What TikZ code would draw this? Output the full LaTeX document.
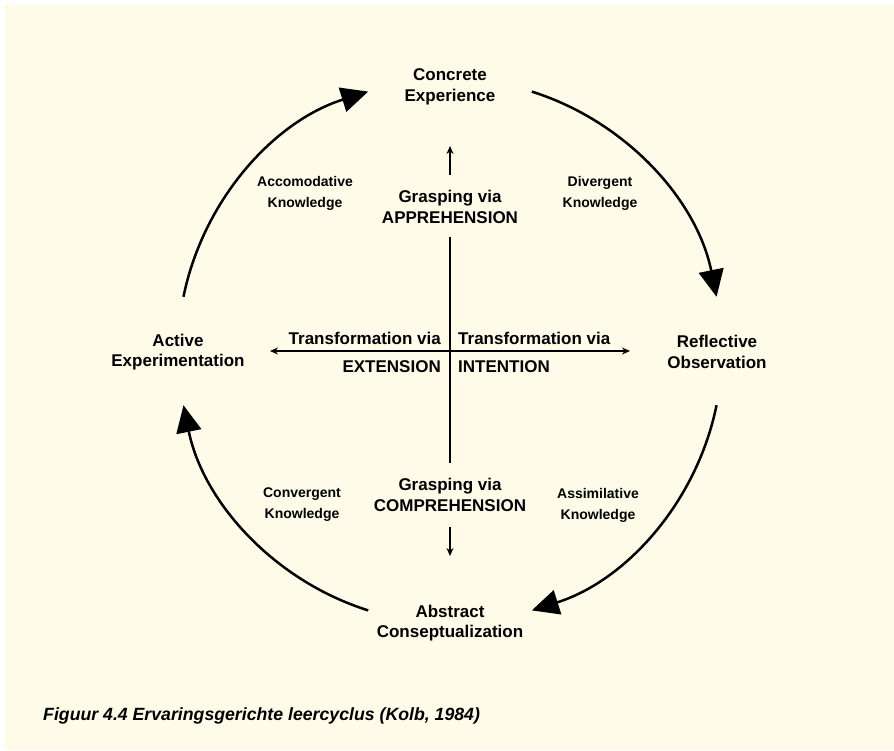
\documentclass[tikz,border=0pt]{standalone}
\usepackage{fontspec}
\setmainfont{Liberation Sans}
\usetikzlibrary{arrows.meta}
\definecolor{cream}{RGB}{254,252,233}
\begin{document}
\begin{tikzpicture}[x=1pt,y=1pt,
  lbl/.style={font=\bfseries\fontsize{17}{20.5}\selectfont, align=center, inner sep=0pt},
  small/.style={font=\bfseries\fontsize{14}{21}\selectfont, align=center, inner sep=0pt},
  axtext/.style={font=\bfseries\fontsize{17}{20.5}\selectfont, inner sep=0pt},
  cyc/.style={line width=2.5pt, -{Triangle[length=27pt,width=25pt]}},
  ax/.style={line width=1.8pt},
  axarr/.style={line width=1.6pt, {Stealth[length=8pt,width=7pt]}-{Stealth[length=8pt,width=7pt]}},
  smallarr/.style={line width=1.6pt, -{Stealth[length=8pt,width=7pt]}}]
\useasboundingbox (0,0) rectangle (894,750);
\fill[white] (0,0) rectangle (894,750);
\fill[cream] (5,0) rectangle (894,745);

\coordinate (C) at (450,399);

% main stage nodes
\node[lbl] (ce) at (450,663) {Concrete\\Experience};
\node[lbl] (ro) at (717,398) {Reflective\\Observation};
\node[lbl] (ac) at (450,127) {Abstract\\Conseptualization};
\node[lbl] (ae) at (178,398) {Active\\Experimentation};

% knowledge labels
\node[small] (acc) at (305,557) {Accomodative\\Knowledge};
\node[small] (div) at (600,557) {Divergent\\Knowledge};
\node[small] (con) at (302,245) {Convergent\\Knowledge};
\node[small] (ass) at (598,245) {Assimilative\\Knowledge};

% grasping labels
\node[lbl] (app) at (450,543) {Grasping via\\APPREHENSION};
\node[lbl] (com) at (450,255) {Grasping via\\COMPREHENSION};

% transformation labels
\node[axtext, anchor=base east] (tl) at (441,405) {Transformation via};
\node[axtext, anchor=base east] (ext) at (441,377) {EXTENSION};
\node[axtext, anchor=base west] (tr) at (458,405) {Transformation via};
\node[axtext, anchor=base west] (int) at (458,377) {INTENTION};

% cycle arcs
\draw[cyc] (C) ++(72.5:272) arc[start angle=72.5, end angle=11.5, radius=272];
\draw[cyc] (C) ++(-11.5:272) arc[start angle=-11.5, end angle=-72.5, radius=272];
\draw[cyc] (C) ++(-107.5:272) arc[start angle=-107.5, end angle=-168.5, radius=272];
\draw[cyc] (C) ++(168.5:272) arc[start angle=168.5, end angle=107.5, radius=272];

% cross
\coordinate (vt) at (450,513);
\coordinate (vb) at (450,287);
\coordinate (hl) at (270,399);
\coordinate (hr) at (630,399);
\draw[ax] (vt) -- (vb);
\draw[axarr] (hl) -- (hr);

% small arrows
\coordinate (ua) at (450,575);
\coordinate (ub) at (450,604);
\coordinate (da) at (450,223);
\coordinate (db) at (450,194);
\draw[smallarr] (ua) -- (ub);
\draw[smallarr] (da) -- (db);

% caption
\node[anchor=base west, inner sep=0pt, font=\bfseries\itshape\fontsize{17.7}{21}\selectfont] (cap) at (43,30) {Figuur 4.4 Ervaringsgerichte leercyclus (Kolb, 1984)};
\end{tikzpicture}
\end{document}
